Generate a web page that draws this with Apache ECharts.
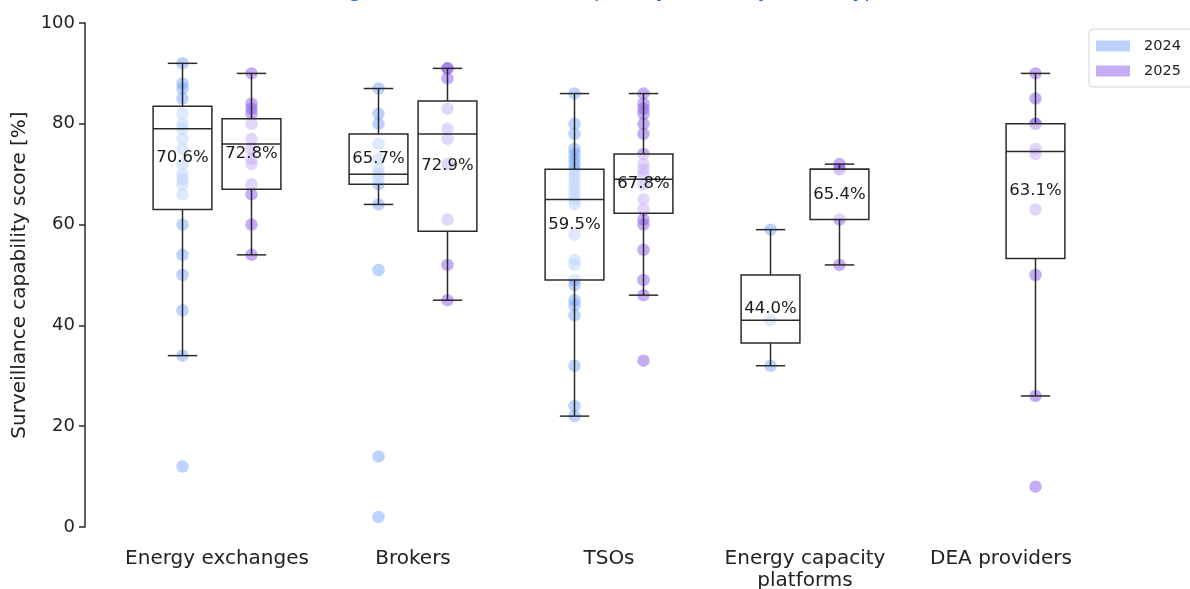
<!DOCTYPE html>
<html>
<head>
<meta charset="utf-8">
<script src="https://cdn.jsdelivr.net/npm/echarts@6/dist/echarts.min.js"></script>
<style>
  html, body { margin: 0; padding: 0; background: #ffffff; }
  #chart { width: 1190px; height: 589px; }
</style>
</head>
<body>
<div id="chart"></div>
<script>
// Entity types shown along the x axis
const categories = ['Energy exchanges', 'Brokers', 'TSOs', 'Energy capacity\nplatforms', 'DEA providers'];
const years = ['2024', '2025'];

// Individual surveillance capability scores [%] per entity type
const scores2024 = [
  [92, 88, 87, 85, 82, 80, 79, 77, 75, 72, 70, 69, 68, 66, 60, 54, 50, 43, 34, 12],
  [87, 82, 80, 76, 73, 71, 70, 69, 68, 64, 51, 14, 2],
  [86, 80, 78, 75, 74, 73, 72, 71, 70, 69, 68, 67, 66, 65, 64, 58, 53, 52, 49, 48, 45, 44, 42, 32, 24, 22],
  [59, 41, 32],
  []
];
const scores2025 = [
  [90, 84, 83, 82, 80, 77, 75, 73, 72, 68, 66, 60, 54],
  [91, 91, 89, 83, 79, 77, 72, 61, 52, 45],
  [86, 84, 83, 82, 80, 78, 74, 72, 71, 70, 68, 65, 63, 61, 60, 55, 49, 46, 33],
  [72, 71, 71, 61, 52],
  [90, 85, 80, 80, 75, 74, 63, 50, 26, 8]
];

// Box statistics: [lower whisker, Q1, median, Q3, upper whisker]
const boxStats2024 = [
  [34, 63, 79, 83.5, 92],
  [64, 68, 70, 78, 87],
  [22, 49, 65, 71, 86],
  [32, 36.5, 41, 50, 59],
  null
];
const boxStats2025 = [
  [54, 67, 76, 81, 90],
  [45, 58.7, 78, 84.5, 91],
  [46, 62.25, 69, 74, 86],
  [52, 61, 71, 71, 72],
  [26, 53.25, 74.5, 80, 90]
];

// Mean score per box, printed inside the box
const means2024 = [70.6, 65.7, 59.5, 44.0, null];
const means2025 = [72.8, 72.9, 67.8, 65.4, 63.1];

// Y axis ticks
const yMin = 0, yMax = 100, yStep = 20;

const FONT = 'DejaVu Sans';
const YEAR_OFFSET = 0.176;   // horizontal shift of each year within a group
const BOX_WIDTH = 0.30;      // in category units
const pointColors = ['rgba(115,162,250,0.6)', 'rgba(145,95,240,0.65)'];
const LINE_COLOR = '#2a2a2a';

function pointsFor(scores, offset) {
  const out = [];
  scores.forEach((list, i) => list.forEach(v => out.push([i + offset, v])));
  return out;
}

function boxesFor(stats, means, offset) {
  const out = [];
  stats.forEach((s, i) => {
    if (!s) return;
    out.push([i + offset, s[0], s[1], s[2], s[3], s[4], means[i]]);
  });
  return out;
}

function renderBox(params, api) {
  const x = api.value(0);
  const lo = api.coord([x, api.value(1)]);
  const q1 = api.coord([x, api.value(2)]);
  const md = api.coord([x, api.value(3)]);
  const q3 = api.coord([x, api.value(4)]);
  const hi = api.coord([x, api.value(5)]);
  const mean = api.value(6);
  const half = api.size([BOX_WIDTH, 0])[0] / 2;
  const cap = half / 2;
  const cx = lo[0];
  const line = { stroke: LINE_COLOR, lineWidth: 1.5 };
  return {
    type: 'group',
    children: [
      { type: 'line', shape: { x1: cx, y1: q1[1], x2: cx, y2: lo[1] }, style: line },
      { type: 'line', shape: { x1: cx, y1: q3[1], x2: cx, y2: hi[1] }, style: line },
      { type: 'line', shape: { x1: cx - cap, y1: lo[1], x2: cx + cap, y2: lo[1] }, style: line },
      { type: 'line', shape: { x1: cx - cap, y1: hi[1], x2: cx + cap, y2: hi[1] }, style: line },
      {
        type: 'rect',
        shape: { x: cx - half, y: q3[1], width: 2 * half, height: q1[1] - q3[1] },
        style: { fill: 'rgba(255,255,255,0.5)', stroke: LINE_COLOR, lineWidth: 1.5 }
      },
      { type: 'line', shape: { x1: cx - half, y1: md[1], x2: cx + half, y2: md[1] }, style: line },
      {
        type: 'text',
        style: {
          text: mean.toFixed(1) + '%',
          x: cx,
          y: (q1[1] + q3[1]) / 2,
          align: 'center',
          verticalAlign: 'middle',
          fontSize: 16.5,
          fontFamily: FONT,
          fill: '#1a1a1a'
        }
      }
    ]
  };
}

const offsets = [-YEAR_OFFSET, YEAR_OFFSET];
const allScores = [scores2024, scores2025];
const allStats = [boxStats2024, boxStats2025];
const allMeans = [means2024, means2025];

const series = [];
years.forEach((year, k) => {
  series.push({
    name: year,
    type: 'scatter',
    xAxisIndex: 1,
    yAxisIndex: 0,
    data: pointsFor(allScores[k], offsets[k]),
    symbol: 'circle',
    symbolSize: 12.5,
    itemStyle: { color: pointColors[k] },
    silent: true,
    z: 2
  });
});
years.forEach((year, k) => {
  series.push({
    name: 'box ' + year,
    type: 'custom',
    xAxisIndex: 1,
    yAxisIndex: 0,
    data: boxesFor(allStats[k], allMeans[k], offsets[k]),
    encode: { x: 0, y: [1, 2, 3, 4, 5] },
    renderItem: renderBox,
    silent: true,
    z: 3
  });
});

const chart = echarts.init(document.getElementById('chart'), null, { renderer: 'canvas' });
chart.setOption({
  animation: false,
  backgroundColor: '#ffffff',
  textStyle: { fontFamily: FONT },
  title: {
    text: 'Change in the surveillance capability scores by sector type',
    left: 'center',
    top: -23,
    textStyle: { color: '#1a5cff', fontSize: 20, fontStyle: 'italic', fontWeight: 'normal', fontFamily: FONT }
  },
  legend: {
    data: years,
    orient: 'vertical',
    left: 1089,
    top: 29,
    icon: 'rect',
    itemWidth: 34,
    itemHeight: 11,
    itemGap: 9,
    padding: [9, 14, 8, 7],
    borderColor: '#d4d4d4',
    borderWidth: 1,
    borderRadius: 4,
    textStyle: { fontSize: 14.5, color: '#222222', fontFamily: FONT, lineHeight: 16, padding: [0, 0, 0, 9] }
  },
  grid: { left: 119, right: 91, top: 23, bottom: 62, containLabel: false, outerBoundsMode: 'none' },
  xAxis: [
    {
      type: 'category',
      data: categories,
      boundaryGap: true,
      axisLine: { show: false },
      axisTick: { show: false },
      splitLine: { show: false },
      axisLabel: { fontSize: 20, color: '#222222', margin: 21, lineHeight: 22, fontFamily: FONT, interval: 0 }
    },
    {
      type: 'value',
      min: -0.5,
      max: 4.5,
      show: false
    }
  ],
  yAxis: {
    type: 'value',
    min: yMin,
    max: yMax,
    interval: yStep,
    offset: 34,
    axisLine: { show: true, onZero: false, lineStyle: { color: LINE_COLOR, width: 1.5 } },
    axisTick: { show: true, length: 6, lineStyle: { color: LINE_COLOR, width: 1.5 } },
    splitLine: { show: false },
    axisLabel: { fontSize: 18, color: '#222222', margin: 10, fontFamily: FONT },
    name: 'Surveillance capability score [%]',
    nameLocation: 'middle',
    nameGap: 52,
    nameTextStyle: { fontSize: 20, color: '#222222', fontFamily: FONT }
  },
  series: series
});
</script>
</body>
</html>
